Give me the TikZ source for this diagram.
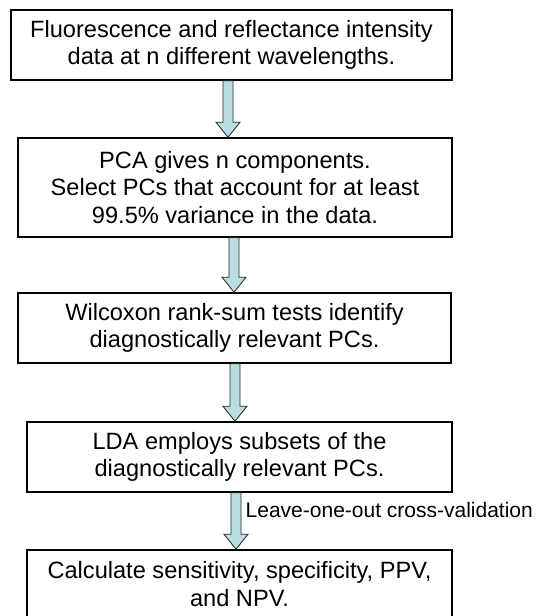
\documentclass[tikz,border=0pt]{standalone}
\usepackage{fontspec}
\setmainfont{Liberation Sans}
\usetikzlibrary{calc}
\definecolor{arrowfill}{RGB}{185,222,226}
\tikzset{
  stepbox/.style={draw, line width=1.5pt, inner sep=0pt, align=center,
    font=\fontsize{23.6}{27.5}\selectfont},
  flowarrow/.style={draw=black!85, line width=0.8pt, fill=arrowfill, line join=miter},
  steplabel/.style={inner sep=0pt, font=\fontsize{21}{24}\selectfont},
}
% block arrow from the bottom of #1 to the top of #2, centred at x = #3
\newcommand{\flowarrow}[3]{%
  \draw[flowarrow] let \p1=(#3,0 |- #1.south), \p2=(#3,0 |- #2.north) in
    (\x1-5pt,\y1) -- (\x1-5pt,\y2+15pt) -- (\x1-12pt,\y2+15pt) -- (\x1,\y2)
    -- (\x1+12pt,\y2+15pt) -- (\x1+5pt,\y2+15pt) -- (\x1+5pt,\y1) -- cycle;}
\begin{document}
\begin{tikzpicture}[x=1pt,y=-1pt]
  \useasboundingbox (0,0) rectangle (537,616);
  \node[stepbox, minimum width=441pt, minimum height=70pt] (data) at (231.5,45)
    {Fluorescence and reflectance intensity\\data at n different wavelengths.};
  \node[stepbox, minimum width=434pt, minimum height=99pt] (pca) at (235,187.5)
    {PCA gives n components.\\Select PCs that account for at least\\99.5\% variance in the data.};
  \node[stepbox, minimum width=433pt, minimum height=70pt] (wilcoxon) at (234.5,328)
    {Wilcoxon rank-sum tests identify\\diagnostically relevant PCs.};
  \node[stepbox, minimum width=425pt, minimum height=70pt] (lda) at (239.5,457)
    {LDA employs subsets of the\\diagnostically relevant PCs.};
  \node[stepbox, minimum width=425pt, minimum height=68pt] (result) at (239.5,584)
    {Calculate sensitivity, specificity, PPV,\\and NPV.};
  \flowarrow{data}{pca}{228}
  \flowarrow{pca}{wilcoxon}{234}
  \flowarrow{wilcoxon}{lda}{235}
  \flowarrow{lda}{result}{236}
  \node[steplabel, anchor=base west] (loocv) at (245.5,517) {Leave-one-out cross-validation};
\end{tikzpicture}
\end{document}
